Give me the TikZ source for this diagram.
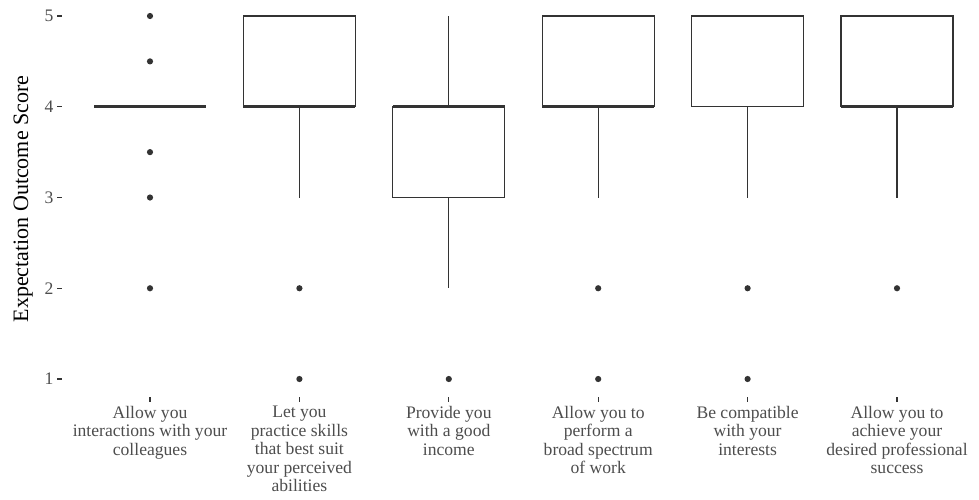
\documentclass[tikz,border=0pt]{standalone}
\usepackage{fontspec}
\setmainfont{Liberation Serif}
\definecolor{boxcol}{HTML}{333333}
\definecolor{txtcol}{HTML}{4D4D4D}
\tikzset{
  bx/.style={draw=boxcol, line width=1.1pt, fill=white},
  med/.style={draw=boxcol, line width=2.8pt},
  wh/.style={draw=boxcol, line width=1.1pt},
  tk/.style={draw=boxcol, line width=1.1pt},
  outl/.style={fill=boxcol},
  ticklab/.style={text=txtcol, font=\fontsize{17.6}{18.5}\selectfont, inner sep=0pt},
  catlab/.style={text=txtcol, font=\fontsize{17.6}{18.5}\selectfont, inner sep=0pt, align=center, anchor=north},
  axtitle/.style={text=black, font=\fontsize{22}{26}\selectfont, inner sep=0pt, rotate=90, anchor=base},
  declare function={yv(\v)=16+(5-\v)*90.75; xc(\k)=150+(\k-1)*149.4;}
}
\begin{document}
\begin{tikzpicture}[x=1pt,y=-1pt]
\useasboundingbox (0,0) rectangle (979,499);
% y axis ticks and labels
\foreach \v in {1,...,5}{
  \draw[tk] (57,{yv(\v)}) -- (61.5,{yv(\v)});
  \node[ticklab, anchor=east] (yl\v) at (53.5,{yv(\v)}) {\v};
}
\node[axtitle] (ytitle) at (28,199) {Expectation Outcome Score};
% x ticks
\foreach \k in {1,...,6}{
  \draw[tk] ({xc(\k)},397) -- ({xc(\k)},401.5);
}
% category 1: collapsed box at 4
\draw[med] ({xc(1)-56},{yv(4)}) -- ({xc(1)+56},{yv(4)});
\foreach \v in {5,4.5,3.5,3,2}{\fill[outl] ({xc(1)},{yv(\v)}) circle (3.1);}
% category 2: box 4-5, median 4, whisker 4-3
\draw[wh] ({xc(2)},{yv(4)}) -- ({xc(2)},{yv(3)});
\draw[bx] ({xc(2)-56},{yv(5)}) rectangle ({xc(2)+56},{yv(4)});
\draw[med] ({xc(2)-56},{yv(4)}) -- ({xc(2)+56},{yv(4)});
\foreach \v in {2,1}{\fill[outl] ({xc(2)},{yv(\v)}) circle (3.1);}
% category 3: box 3-4, median 4, whiskers 5 and 2
\draw[wh] ({xc(3)},{yv(5)}) -- ({xc(3)},{yv(2)});
\draw[bx] ({xc(3)-56},{yv(4)}) rectangle ({xc(3)+56},{yv(3)});
\draw[med] ({xc(3)-56},{yv(4)}) -- ({xc(3)+56},{yv(4)});
\fill[outl] ({xc(3)},{yv(1)}) circle (3.1);
% category 4: box 4-5, median 4, whisker 4-3
\draw[wh] ({xc(4)},{yv(4)}) -- ({xc(4)},{yv(3)});
\draw[bx] ({xc(4)-56},{yv(5)}) rectangle ({xc(4)+56},{yv(4)});
\draw[med] ({xc(4)-56},{yv(4)}) -- ({xc(4)+56},{yv(4)});
\foreach \v in {2,1}{\fill[outl] ({xc(4)},{yv(\v)}) circle (3.1);}
% category 5: box 4-5, median 5, whisker 4-3
\draw[wh] ({xc(5)},{yv(4)}) -- ({xc(5)},{yv(3)});
\draw[bx] ({xc(5)-56},{yv(5)}) rectangle ({xc(5)+56},{yv(4)});
\draw[med] ({xc(5)-56},{yv(5)}) -- ({xc(5)+56},{yv(5)});
\foreach \v in {2,1}{\fill[outl] ({xc(5)},{yv(\v)}) circle (3.1);}
% category 6: box 4-5, median 4, whisker 4-3
\draw[wh] ({xc(6)},{yv(4)}) -- ({xc(6)},{yv(3)});
\draw[bx] ({xc(6)-56},{yv(5)}) rectangle ({xc(6)+56},{yv(4)});
\draw[med] ({xc(6)-56},{yv(4)}) -- ({xc(6)+56},{yv(4)});
\fill[outl] ({xc(6)},{yv(2)}) circle (3.1);
% category labels
\node[catlab] (c1) at ({xc(1)},406) {Allow you\\interactions with your\\colleagues};
\node[catlab] (c2) at ({xc(2)},406) {Let you\\practice skills\\that best suit\\your perceived\\abilities};
\node[catlab] (c3) at ({xc(3)},406) {Provide you\\with a good\\income};
\node[catlab] (c4) at ({xc(4)},406) {Allow you to\\perform a\\broad spectrum\\of work};
\node[catlab] (c5) at ({xc(5)},406) {Be compatible\\with your\\interests};
\node[catlab] (c6) at ({xc(6)},406) {Allow you to\\achieve your\\desired professional\\success};
\end{tikzpicture}
\end{document}
